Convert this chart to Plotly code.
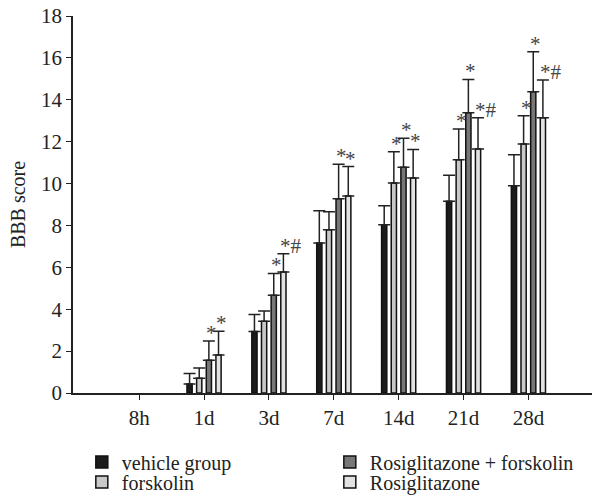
import plotly.graph_objects as go

categories = ["8h", "1d", "3d", "7d", "14d", "21d", "28d"]

vehicle = [0, 0.43, 2.94, 7.16, 8.03, 9.16, 9.89]
vehicle_err = [0, 0.50, 0.81, 1.54, 0.91, 1.24, 1.48]
forskolin = [0, 0.70, 3.43, 7.79, 10.03, 11.14, 11.89]
forskolin_err = [0, 0.49, 0.49, 0.86, 1.49, 1.46, 1.35]
rosi_forsk = [0, 1.56, 4.67, 9.27, 10.78, 13.38, 14.38]
rosi_forsk_err = [0, 0.92, 1.04, 1.65, 1.38, 1.59, 1.91]
rosi = [0, 1.81, 5.78, 9.41, 10.27, 11.65, 13.14]
rosi_err = [0, 1.14, 0.87, 1.40, 1.36, 1.49, 1.80]

marks_forskolin = ["", "", "", "", "*", "*", "*"]
marks_rosi_forsk = ["", "*", "*", "*", "*", "*", "*"]
marks_rosi = ["", "*", "*#", "*", "*", "*#", "*#"]

# name, values, errors, colour, legend row, marks
series = [
    ("vehicle group", vehicle, vehicle_err, "#1c1c1c", "legend", None),
    ("forskolin", forskolin, forskolin_err, "#c9c9c9", "legend2", marks_forskolin),
    ("Rosiglitazone + forskolin", rosi_forsk, rosi_forsk_err, "#777777", "legend", marks_rosi_forsk),
    ("Rosiglitazone", rosi, rosi_err, "#e2e2e2", "legend2", marks_rosi),
]

FONT = "Liberation Serif"
fig = go.Figure()
for name, vals, errs, col, leg, _ in series:
    shown = [v if v else None for v in vals]
    shown_err = [e if e else None for e in errs]
    fig.add_trace(go.Bar(
        name=name, x=categories, y=shown,
        marker=dict(color=col, line=dict(color="#111111", width=1.5)),
        error_y=dict(type="data", array=shown_err, arrayminus=[0]*len(errs), symmetric=False,
                     color="#222222", thickness=1.5, width=6),
        legend=leg,
    ))

slot_px = 9.7
offsets = [-1.5, -0.5, 0.5, 1.5]
annotations = []
for i, (name, vals, errs, col, leg, marks) in enumerate(series):
    if marks is None:
        continue
    for c, v, e, m in zip(categories, vals, errs, marks):
        if not m:
            continue
        annotations.append(dict(
            x=c, y=v + e, xref="x", yref="y", text=m, showarrow=False,
            xanchor="left", yanchor="bottom",
            xshift=offsets[i] * slot_px - 5, yshift=-6,
            font=dict(family=FONT, size=21, color="#444444"),
        ))

legend_common = dict(orientation="h", xanchor="left", yanchor="middle",
                     entrywidth=203, entrywidthmode="pixels", traceorder="normal",
                     font=dict(family=FONT, size=20, color="#222222"),
                     bgcolor="rgba(0,0,0,0)")

fig.update_layout(
    width=594, height=504,
    margin=dict(l=73, r=2, t=16, b=111, autoexpand=False),
    plot_bgcolor="white", paper_bgcolor="white",
    barmode="group", bargap=0.405, bargroupgap=0.46,
    font=dict(family=FONT, size=20, color="#222222"),
    annotations=annotations,
    legend=dict(x=0.017, y=-0.183, **legend_common),
    legend2=dict(x=0.017, y=-0.236, **legend_common),
    showlegend=True,
)
fig.update_xaxes(type="category", range=[-1.02, 6.98], showline=True, linecolor="#222222",
                 linewidth=1.5, ticks="outside", ticklen=5, tickcolor="#222222",
                 tickfont=dict(family=FONT, size=21), showgrid=False, zeroline=False)
fig.update_yaxes(range=[0, 18], dtick=2, showline=True, linecolor="#222222", linewidth=1.5,
                 ticks="outside", ticklen=5, tickcolor="#222222", showgrid=False, zeroline=False,
                 tickfont=dict(family=FONT, size=21),
                 title=dict(text="BBB score", standoff=10, font=dict(family=FONT, size=20)))

fig.write_html("out.html")
